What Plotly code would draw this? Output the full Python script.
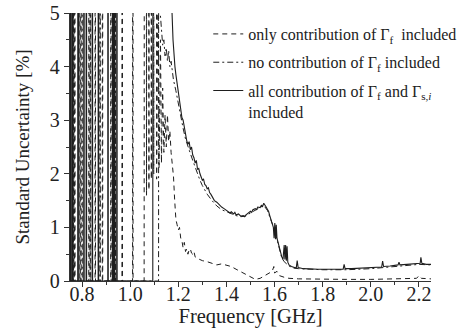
import plotly.graph_objects as go

# ---------------- data ----------------
# "only contribution of Γf included" (dashed)
dash_f = [0.750, 0.769, 0.770, 0.771, 0.791, 0.792, 0.793, 0.828, 0.829, 0.830,
          0.854, 0.855, 0.856, 0.884, 0.885, 0.886, 0.919, 0.920, 0.921,
          0.966, 0.967, 0.968, 1.010, 1.011, 1.012,
          1.058, 1.062, 1.068, 1.072, 1.078, 1.082, 1.088, 1.092, 1.098, 1.104,
          1.110, 1.116, 1.120, 1.126, 1.130, 1.135, 1.140, 1.145, 1.150, 1.155,
          1.160, 1.165, 1.170, 1.175, 1.180, 1.185, 1.190, 1.195, 1.200, 1.205,
          1.210, 1.215, 1.220, 1.225, 1.230, 1.235, 1.240, 1.245, 1.250, 1.255,
          1.260, 1.265, 1.270, 1.280, 1.300, 1.320, 1.340, 1.360, 1.380, 1.400,
          1.420, 1.440, 1.460, 1.480, 1.500, 1.520, 1.540, 1.560, 1.580, 1.590,
          1.597, 1.600, 1.610, 1.620, 1.640, 1.660, 1.700, 1.800, 1.900, 2.000,
          2.100, 2.190, 2.200, 2.210, 2.250]
dash_u = [0.0, 0.0, 60, 0.0, 0.0, 60, 0.0, 0.0, 60, 0.0,
          0.0, 60, 0.0, 0.0, 60, 0.0, 0.0, 60, 0.0,
          0.0, 60, 0.0, 0.0, 60, 0.0,
          0.0, 40, 1.6, 40, 1.7, 40, 1.9, 40, 2.0, 40,
          1.9, 6.0, 2.1, 4.5, 2.2, 3.6, 2.4, 3.1, 2.5, 3.1,
          2.6, 2.8, 2.4, 2.2, 1.95, 1.5, 1.15, 1.05, 0.95, 1.0,
          0.80, 0.75, 0.62, 0.72, 0.55, 0.60, 0.50, 0.58, 0.60, 0.52,
          0.50, 0.55, 0.45, 0.42, 0.38, 0.36, 0.33, 0.30, 0.32, 0.29,
          0.27, 0.22, 0.17, 0.12, 0.07, 0.03, 0.05, 0.10, 0.14, 0.18,
          0.27, 0.15, 0.18, 0.10, 0.07, 0.05, 0.04, 0.03, 0.03, 0.03,
          0.04, 0.05, 0.10, 0.05, 0.04]

# "no contribution of Γf included" (dash-dot)
dd_f = [0.750, 0.764, 0.765, 0.766, 0.799, 0.800, 0.801, 0.834, 0.835, 0.836,
        0.874, 0.875, 0.876, 0.937, 0.938, 0.939, 1.100, 1.118, 1.120,
        1.125, 1.130, 1.135, 1.140, 1.145, 1.150, 1.155, 1.160, 1.165, 1.170,
        1.175, 1.180, 1.190, 1.200, 1.210, 1.220, 1.230, 1.240, 1.250, 1.260,
        1.270, 1.280, 1.290, 1.300, 1.320, 1.340, 1.360, 1.380, 1.400, 1.420,
        1.440, 1.460, 1.480, 1.500, 1.520, 1.540, 1.555, 1.570, 1.580, 1.590,
        1.600, 1.610, 1.620, 1.630, 1.640, 1.660, 1.680, 1.700, 1.800, 1.900,
        2.000, 2.100, 2.200, 2.250]
dd_u = [0.0, 0.0, 60, 0.0, 0.0, 60, 0.0, 0.0, 60, 0.0,
        0.0, 60, 0.0, 0.0, 60, 0.0, 0.0, 0.0, 40,
        5.0, 4.7, 4.4, 4.5, 4.2, 4.35, 4.1, 4.3, 4.0, 4.1,
        3.9, 3.75, 3.55, 3.3, 3.05, 2.85, 2.65, 2.5, 2.38, 2.25,
        2.12, 2.0, 1.88, 1.78, 1.62, 1.50, 1.40, 1.33, 1.29, 1.25,
        1.22, 1.20, 1.21, 1.27, 1.32, 1.36, 1.41, 1.32, 1.20, 1.05,
        0.95, 0.78, 0.58, 0.43, 0.36, 0.28, 0.24, 0.23, 0.21, 0.21,
        0.23, 0.27, 0.31, 0.30]

# "all contribution of Γf and Γs,i included" (solid)
all_f = [0.750, 0.751, 0.752, 0.757, 0.758, 0.759, 0.761, 0.762, 0.763,
         0.782, 0.783, 0.784, 0.785, 0.786, 0.787, 0.807, 0.808, 0.809,
         0.817, 0.818, 0.819, 0.842, 0.843, 0.844, 0.867, 0.868, 0.869,
         0.907, 0.908, 0.909, 0.926, 0.927, 0.928, 0.930, 0.931, 0.932,
         0.934, 0.935, 0.936, 0.944, 0.945, 0.946,
         1.094, 1.096, 1.170,
         1.174, 1.178, 1.182, 1.186, 1.190, 1.195, 1.200, 1.205, 1.210, 1.215,
         1.220, 1.225, 1.230, 1.235, 1.240, 1.245, 1.250, 1.255, 1.260, 1.265,
         1.270, 1.275, 1.280, 1.285, 1.290, 1.295, 1.300, 1.305, 1.310, 1.315,
         1.320, 1.325, 1.330, 1.335, 1.340, 1.345, 1.350, 1.360, 1.370, 1.380,
         1.390, 1.400, 1.410, 1.415, 1.420, 1.430, 1.435, 1.440, 1.450, 1.460,
         1.470, 1.475, 1.480, 1.490, 1.500, 1.505, 1.510, 1.520, 1.525, 1.530,
         1.540, 1.545, 1.550, 1.555, 1.560, 1.565, 1.570, 1.575, 1.580, 1.585,
         1.590, 1.595, 1.598, 1.601, 1.604, 1.607, 1.610, 1.615, 1.620, 1.625,
         1.630, 1.635, 1.640, 1.643, 1.646, 1.649, 1.652, 1.655, 1.660, 1.670,
         1.680, 1.690, 1.694, 1.698, 1.720, 1.750, 1.780, 1.820, 1.860, 1.885,
         1.889, 1.893, 1.920, 1.960, 2.000, 2.045, 2.049, 2.053, 2.080, 2.100,
         2.113, 2.117, 2.121, 2.150, 2.180, 2.205, 2.208, 2.212, 2.230, 2.250]
all_u = [0.0, 60, 0.0, 0.0, 60, 0.0, 0.0, 60, 0.0,
         0.0, 60, 0.0, 0.0, 60, 0.0, 0.0, 60, 0.0,
         0.0, 60, 0.0, 0.0, 60, 0.0, 0.0, 60, 0.0,
         0.0, 60, 0.0, 0.0, 60, 0.0, 0.0, 60, 0.0,
         0.0, 60, 0.0, 0.0, 60, 0.0,
         0.0, 40, 40,
         5.0, 4.5, 4.2, 4.0, 3.85, 3.7, 3.55, 3.35, 3.25, 3.05,
         3.0, 2.85, 2.75, 2.62, 2.55, 2.6, 2.45, 2.5, 2.35, 2.3,
         2.2, 2.25, 2.08, 2.1, 2.0, 1.93, 1.88, 1.9, 1.8, 1.78,
         1.72, 1.74, 1.65, 1.62, 1.58, 1.55, 1.5, 1.47, 1.42, 1.38,
         1.35, 1.32, 1.3, 1.27, 1.29, 1.25, 1.28, 1.23, 1.25, 1.21,
         1.22, 1.2, 1.23, 1.27, 1.3, 1.28, 1.33, 1.35, 1.33, 1.38,
         1.37, 1.41, 1.39, 1.45, 1.4, 1.38, 1.34, 1.3, 1.22, 1.15,
         1.08, 1.0, 0.8, 1.08, 0.78, 1.05, 0.8, 0.7, 0.6, 0.52,
         0.45, 0.4, 0.67, 0.4, 0.67, 0.38, 0.65, 0.35, 0.3, 0.27,
         0.25, 0.24, 0.38, 0.25, 0.23, 0.22, 0.22, 0.22, 0.22, 0.22,
         0.31, 0.23, 0.23, 0.24, 0.25, 0.26, 0.37, 0.27, 0.28, 0.29,
         0.3, 0.35, 0.3, 0.31, 0.32, 0.33, 0.44, 0.33, 0.31, 0.31]

names = ["only contribution of Γ<sub>f</sub>  included",
         "no contribution of Γ<sub>f</sub> included",
         "all contribution of Γ<sub>f</sub> and Γ<sub>s,<i>i</i></sub><br>included"]

x_ticks = [0.8, 1.0, 1.2, 1.4, 1.6, 1.8, 2.0, 2.2]
y_ticks = [0, 1, 2, 3, 4, 5]

# ---------------- figure ----------------
FONT = "'Liberation Serif', 'DejaVu Serif', serif"
LC = "#1e1e1e"

fig = go.Figure()
fig.add_trace(go.Scatter(x=dash_f, y=dash_u, mode="lines", name=names[0], legendgroup="a",
                         line=dict(color=LC, width=1, dash="5px,4px")))
fig.add_trace(go.Scatter(x=dd_f, y=dd_u, mode="lines", name=names[1], legendgroup="b",
                         line=dict(color=LC, width=1, dash="6px,3px,2px,3px")))
fig.add_trace(go.Scatter(x=all_f, y=all_u, mode="lines", name=names[2], legendgroup="c",
                         line=dict(color=LC, width=1.1)))

axis_common = dict(showgrid=False, zeroline=False, showline=True, linecolor="#333",
                   linewidth=1.3, ticks="outside", ticklen=5, tickwidth=1, tickcolor="#333",
                   tickfont=dict(family=FONT, size=20, color="#222"), mirror=False,
                   automargin=False)

fig.update_xaxes(range=[0.75, 2.25], tickvals=x_ticks, ticktext=[f"{v:.1f}" for v in x_ticks],
                 minor=dict(ticks="outside", ticklen=3, dtick=0.1, tick0=0.0, tickcolor="#333"),
                 ticklabelstandoff=-10,
                 title=dict(text="Frequency [GHz]", font=dict(family=FONT, size=20.5, color="#222"),
                            standoff=3),
                 **axis_common)
fig.update_yaxes(range=[0, 5], tickvals=y_ticks,
                 minor=dict(ticks="outside", ticklen=3, dtick=0.5, tick0=0.0, tickcolor="#333"),
                 title=dict(text="Standard Uncertainty [%]", font=dict(family=FONT, size=19, color="#222"),
                            standoff=15),
                 **axis_common)

fig.update_layout(
    width=468, height=335,
    margin=dict(l=70, r=37, t=13, b=54, autoexpand=False),
    plot_bgcolor="white", paper_bgcolor="white",
    font=dict(family=FONT, color="#222"),
    legend=dict(x=0.383, y=0.985, xanchor="left", yanchor="top",
                font=dict(family=FONT, size=16, color="#222"),
                bgcolor="rgba(0,0,0,0)", borderwidth=0, tracegroupgap=4.5, valign="top"),
    showlegend=True,
)

fig.write_html("out.html")
